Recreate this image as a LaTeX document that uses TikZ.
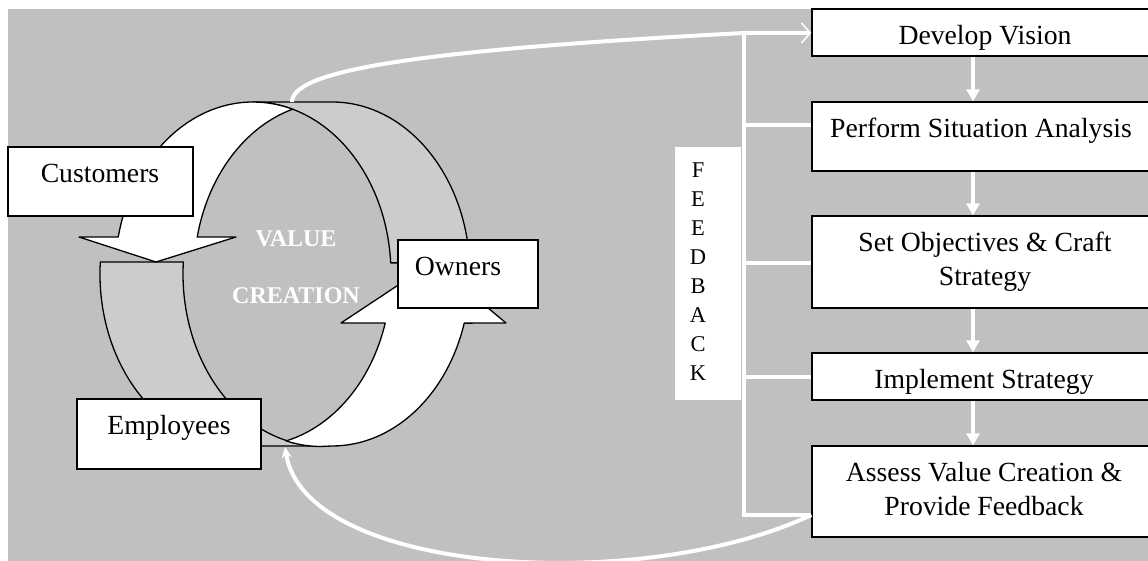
\documentclass[tikz,border=0pt]{standalone}
\usepackage{fontspec}
\setmainfont{Liberation Serif}
\usetikzlibrary{arrows.meta}
\definecolor{bggray}{HTML}{C0C0C0}
\definecolor{bandgray}{HTML}{CCCCCC}
\begin{document}
\begin{tikzpicture}[x=1pt,y=1pt,
  box/.style={draw=black,line width=1.3pt,fill=white,rectangle,inner sep=0},
  lbl/.style={inner sep=0,font=\fontsize{27.7}{34}\selectfont,align=center,anchor=base},
  ring/.style={draw=black,line width=1.3pt,line join=round},
  fb/.style={draw=white,line width=3.2pt},
  flow/.style={draw=white,line width=3.5pt,-{Triangle[length=12pt,width=13pt]}},
]
\path[use as bounding box] (0,0) rectangle (1148,561);
\clip (0,0) rectangle (1148,561);
\fill[bggray] (8,0) rectangle (1148,552);

% ---- ring: upper-right back band
\path[ring,fill=bandgray] (253,459) -- (332,459)
  arc[start angle=90,end angle=3.7,x radius=138,y radius=172]
  -- (390.7,298.1)
  arc[start angle=3.7,end angle=90,x radius=138,y radius=172] -- cycle;
% ---- ring: lower-left back band
\path[ring,fill=bandgray] (100.3,299)
  arc[start angle=176,end angle=270,x radius=138,y radius=172]
  -- (321,115)
  arc[start angle=270,end angle=176,x radius=138,y radius=172] -- cycle;
% ---- upper white arrow (to customers)
\path[ring,fill=white] (253,459)
  arc[start angle=90,end angle=167.6,x radius=138,y radius=172]
  -- (79,324) -- (156,299) -- (236,324) -- (197.2,323.9)
  arc[start angle=167.6,end angle=106.6,x radius=138,y radius=172]
  arc[start angle=73.4,end angle=90,x radius=138,y radius=172] -- cycle;
% ---- lower white arrow (to owners)
\path[ring,fill=white] (385.2,237.9)
  arc[start angle=-16.6,end angle=-76.1,x radius=138,y radius=172]
  arc[start angle=255.4,end angle=270,x radius=138,y radius=172]
  -- (332,115)
  arc[start angle=270,end angle=343.4,x radius=138,y radius=172]
  -- (506,238) -- (433,299) -- (341,238) -- cycle;

% ---- left boxes
\node[box,minimum width=185pt,minimum height=69pt] (cust) at (100.5,379.5) {};
\node[box,minimum width=184pt,minimum height=70pt] (emp) at (169,127) {};
\node[box,minimum width=140pt,minimum height=68pt] (own) at (468,287) {};
\node[lbl] (custt) at (100,378) {Customers};
\node[lbl] (empt) at (169,126) {Employees};
\node[lbl] (ownt) at (458,285) {Owners};
\node[inner sep=0,align=center,anchor=base,text=white,font=\bfseries\fontsize{24}{57}\selectfont] (vc) at (296,257) {VALUE\\CREATION};

% ---- right boxes
\node[box,minimum width=346pt,minimum height=47pt] (dv) at (985,528.5) {};
\node[box,minimum width=346pt,minimum height=69pt] (psa) at (985,424.5) {};
\node[box,minimum width=346pt,minimum height=92pt] (so) at (985,299) {};
\node[box,minimum width=346pt,minimum height=47pt] (is) at (985,184.5) {};
\node[box,minimum width=346pt,minimum height=91pt] (av) at (985,69.5) {};
\node[lbl] (dvt) at (985,516) {Develop Vision};
\node[lbl] (psat) at (981,423) {Perform Situation Analysis};
\node[lbl] (sot) at (985,275) {Set Objectives \& Craft\\Strategy};
\node[lbl] (ist) at (984,172) {Implement Strategy};
\node[lbl] (avt) at (984,45) {Assess Value Creation \&\\Provide Feedback};

% ---- feedback column
\node[fill=white,inner sep=0,minimum width=66pt,minimum height=253pt] (fbbox) at (708,287.5) {};
\node[inner sep=0,align=center,anchor=base,font=\fontsize{22.5}{29}\selectfont] (fbt) at (698,180) {F\\E\\E\\D\\B\\A\\C\\K};

\coordinate (ax) at (973,0);
\draw[flow] (dv.south -| ax) -- (psa.north -| ax);
\draw[flow] (psa.south -| ax) -- (so.north -| ax);
\draw[flow] (so.south -| ax) -- (is.north -| ax);
\draw[flow] (is.south -| ax) -- (av.north -| ax);

\coordinate (ringtop) at (292,459);
\coordinate (fbtop) at (744,528);
\coordinate (fbbot) at (744,46);
\coordinate (b1) at (744,436);
\coordinate (b2) at (744,298);
\coordinate (b3) at (744,184);
\coordinate (emptip) at (285,114);

\draw[fb] (fbtop) -- (fbbot) -- (fbbot -| av.west);
\draw[fb] (b1) -- (b1 -| psa.west);
\draw[fb] (b2) -- (b2 -| so.west);
\draw[fb] (b3) -- (b3 -| is.west);

\draw[white,line width=4pt,-{Straight Barb[length=9pt,width=20pt,line width=1.5pt]}]
  (ringtop) .. controls (292,491) and (420,511) .. (fbtop) -- (fbtop -| dv.west);
\draw[white,line width=4pt,-{Stealth[length=11pt,width=10pt]}]
  (fbbot -| av.west) .. controls (642,-34) and (305,-14) .. (emptip);
\end{tikzpicture}
\end{document}
